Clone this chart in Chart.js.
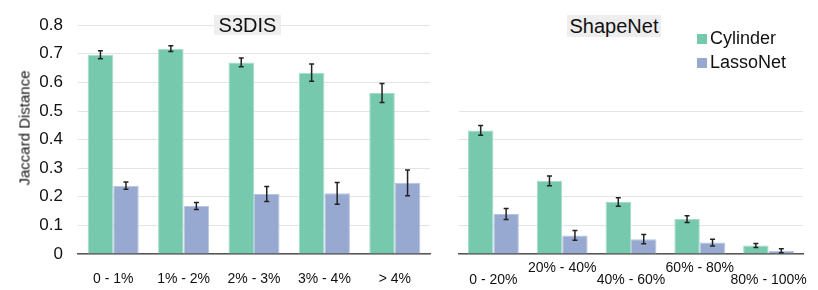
<!DOCTYPE html>
<html lang="en">
  <head>
    <meta charset="UTF-8" />
    <title>Jaccard Distance</title>
    <script src="https://cdn.jsdelivr.net/npm/chart.js"></script>
    <style>
      html, body {
        margin: 0;
        padding: 0;
        background: #fff;
      }
      body {
        width: 818px;
        height: 290px;
        position: relative;
        font-family: "Liberation Sans", Arial, sans-serif;
        color: #111;
        overflow: hidden;
      }
      .panel {
        position: absolute;
        top: 0;
        height: 290px;
      }
      .title {
        position: absolute;
        background: #eeeeee;
        font-size: 20px;
        text-align: center;
      }
      .ytitle {
        position: absolute;
        left: 24px;
        top: 128px;
        font-size: 15px;
        white-space: nowrap;
        transform: translate(-50%, -50%) rotate(-90deg);
      }
      .legend {
        position: absolute;
        left: 697px;
        font-size: 18px;
        line-height: 24px;
        white-space: nowrap;
      }
      .legend span {
        display: inline-block;
        width: 10px;
        height: 10px;
        margin-right: 3px;
        vertical-align: 0px;
      }
    </style>
  </head>
  <body>
    <div class="panel" style="left: 0; width: 440px"><canvas id="s3dis"></canvas></div>
    <div class="panel" style="left: 440px; width: 378px"><canvas id="shapenet"></canvas></div>

    <div class="title" style="left: 214px; top: 15px; width: 67px; height: 20px; line-height: 20px">S3DIS</div>
    <div class="title" style="left: 567px; top: 15px; width: 94px; height: 22px; line-height: 23px">ShapeNet</div>
    <div class="ytitle">Jaccard Distance</div>
    <div class="legend" style="top: 26px"><span style="background: #77c9ae"></span>Cylinder</div>
    <div class="legend" style="top: 50px"><span style="background: #98a9d1"></span>LassoNet</div>

    <script>
      const seriesNames = ["Cylinder", "LassoNet"];
      const seriesColors = ["#77c9ae", "#98a9d1"];

      // S3DIS
      const s3disLabels = ["0 - 1%", "1% - 2%", "2% - 3%", "3% - 4%", "> 4%"];
      const s3disCylinder = [0.697, 0.718, 0.67, 0.634, 0.563];
      const s3disCylinderErr = [0.014, 0.01, 0.015, 0.03, 0.033];
      const s3disLasso = [0.239, 0.168, 0.21, 0.212, 0.249];
      const s3disLassoErr = [0.013, 0.012, 0.026, 0.038, 0.045];

      // ShapeNet (labels alternate between two rows)
      const shapenetLabels = ["0 - 20%", "20% - 40%", "40% - 60%", "60% - 80%", "80% - 100%"];
      const shapenetCylinder = [0.432, 0.256, 0.182, 0.122, 0.03];
      const shapenetCylinderErr = [0.017, 0.017, 0.015, 0.012, 0.007];
      const shapenetLasso = [0.14, 0.065, 0.052, 0.04, 0.011];
      const shapenetLassoErr = [0.019, 0.017, 0.016, 0.012, 0.007];

      Chart.defaults.font.family = "'Liberation Sans', Arial, sans-serif";
      Chart.defaults.color = "#111";
      Chart.defaults.animation = false;

      const errorBars = {
        id: "errorBars",
        afterDatasetsDraw(chart) {
          const ctx = chart.ctx;
          const y = chart.scales.y;
          ctx.save();
          ctx.strokeStyle = "#222";
          ctx.lineWidth = 1.5;
          chart.data.datasets.forEach((ds, di) => {
            const meta = chart.getDatasetMeta(di);
            meta.data.forEach((bar, i) => {
              const v = ds.data[i];
              const e = ds.errors[i];
              const top = y.getPixelForValue(v + e);
              const bot = y.getPixelForValue(v - e);
              ctx.beginPath();
              ctx.moveTo(bar.x, top);
              ctx.lineTo(bar.x, bot);
              ctx.moveTo(bar.x - 2.5, top);
              ctx.lineTo(bar.x + 2.5, top);
              ctx.moveTo(bar.x - 2.5, bot);
              ctx.lineTo(bar.x + 2.5, bot);
              ctx.stroke();
            });
          });
          ctx.restore();
        },
      };

      function makeDatasets(a, aErr, b, bErr) {
        return [
          { label: seriesNames[0], data: a, errors: aErr, backgroundColor: seriesColors[0], borderColor: "#a6dbc9", borderWidth: 1 },
          { label: seriesNames[1], data: b, errors: bErr, backgroundColor: seriesColors[1], borderColor: "#b8c4e1", borderWidth: 1 },
        ];
      }

      new Chart(document.getElementById("s3dis"), {
        type: "bar",
        data: {
          labels: s3disLabels,
          datasets: makeDatasets(s3disCylinder, s3disCylinderErr, s3disLasso, s3disLassoErr),
        },
        options: {
          responsive: true,
          maintainAspectRatio: false,
          layout: { padding: { top: 25, right: 10, left: 0, bottom: 0 } },
          datasets: { bar: { categoryPercentage: 0.725, barPercentage: 1 } },
          plugins: { legend: { display: false }, tooltip: { enabled: false } },
          scales: {
            x: {
              grid: { display: false, drawTicks: false },
              border: { color: "#555", width: 1.5 },
              ticks: { font: { size: 14 }, padding: 17 },
              afterFit: (s) => { s.height = 36; },
            },
            y: {
              min: 0,
              max: 0.8,
              ticks: { stepSize: 0.1, font: { size: 17 }, padding: 15 },
              grid: { color: "#e4e4e4", drawTicks: false },
              border: { display: false },
              afterFit: (s) => { s.width = 78; },
            },
          },
        },
        plugins: [errorBars],
      });

      new Chart(document.getElementById("shapenet"), {
        type: "bar",
        data: {
          labels: shapenetLabels.map((l, i) => (i % 2 ? [l, ""] : ["", l])),
          datasets: makeDatasets(shapenetCylinder, shapenetCylinderErr, shapenetLasso, shapenetLassoErr),
        },
        options: {
          responsive: true,
          maintainAspectRatio: false,
          layout: { padding: { top: 111, right: 15, left: 0, bottom: 0 } },
          datasets: { bar: { categoryPercentage: 0.74, barPercentage: 1 } },
          plugins: { legend: { display: false }, tooltip: { enabled: false } },
          scales: {
            x: {
              grid: { display: false, drawTicks: false },
              border: { color: "#555", width: 1.5 },
              ticks: { font: { size: 14, lineHeight: 0.86 }, padding: 8, autoSkip: false, maxRotation: 0 },
              afterFit: (s) => { s.height = 36; },
            },
            y: {
              min: 0,
              max: 0.5,
              ticks: { display: false, stepSize: 0.1 },
              grid: { color: "#e4e4e4", drawTicks: false },
              border: { display: false },
              afterFit: (s) => { s.width = 19; },
            },
          },
        },
        plugins: [errorBars],
      });
    </script>
  </body>
</html>
